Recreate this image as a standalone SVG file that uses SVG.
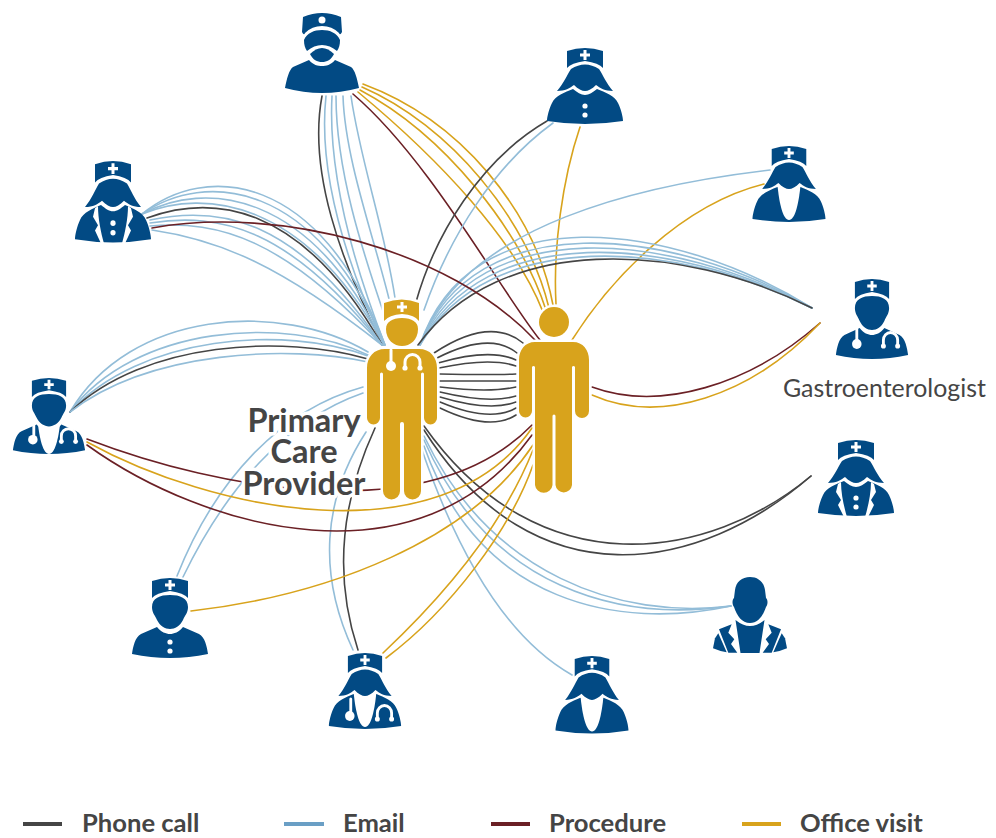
<svg xmlns="http://www.w3.org/2000/svg" width="996" height="838" viewBox="0 0 996 838">
<style>
.c{fill:none;stroke-width:1.6;stroke-linecap:round}
.ph{stroke:#454545}.em{stroke:#93bdd8}.pr{stroke:#6b2025}.of{stroke:#d8a31c}
.i{fill:#024a84}.w{fill:#fff}.ws{fill:none;stroke:#fff;stroke-width:3;stroke-linecap:round}
.g{fill:#d8a31c;stroke:#fff;stroke-width:5;paint-order:stroke}
.lab{font-family:"Lato","Liberation Sans",sans-serif;fill:#454545}
.pcp{font-size:32.5px;font-weight:700;text-anchor:middle;stroke:#fff;stroke-width:7;paint-order:stroke;stroke-linejoin:round}
.leg{font-size:25.6px;font-weight:700}
.ll{stroke-width:4;fill:none}
</style>
<defs>
<g id="cap"><path class="i" d="M-18,4 Q0,-2 18,4 V21 Q14,16 0,14 Q-14,16 -18,21Z"/><path class="w" d="M-1.5,3 H1.5 V6.5 H5 V9.5 H1.5 V13 H-1.5 V9.5 H-5 V6.5 H-1.5Z"/></g>
<path id="mhead" class="i" d="M-18,30 C-18,21 -10,18 0,18 C10,18 18,21 18,30 C18,36 15,38 13,43 C10,49 5,52 0,52 C-5,52 -10,49 -13,43 C-15,38 -18,36 -18,30Z"/>
<path id="mbody" class="i" d="M-13,50 C-9,55 -4,57 0,57 C4,57 9,55 13,50 L29,57 C35,60 37,70 38,77 Q0,85 -38,77 C-37,70 -35,60 -29,57Z"/>
<path id="hair" class="i" d="M-14,22 Q0,13 14,22 C18,28 21,36 28,44 C20,44 15,41 11,38 C7,42 3,44 0,44 C-3,44 -7,42 -11,38 C-15,41 -20,44 -28,44 C-21,36 -18,28 -14,22Z"/>
<path id="fbody" class="i" d="M-12,42 C-8,45 -4,48 0,48 C4,48 8,45 12,42 C20,45 30,49 33,56 C36,62 38,70 38,74 Q0,80 -38,74 C-38,70 -36,62 -33,56 C-30,49 -20,45 -12,42Z"/>
<g id="dots"><circle class="w" cx="0" cy="59" r="2.6"/><circle class="w" cx="0" cy="68" r="2.6"/></g>
<path id="vee" class="w" d="M-12,40 H12 C10,60 6,75 0,75 C-6,75 -10,60 -12,40Z"/>
<g id="lapels"><path class="w" d="M-18,45 L-15,43 C-15,55 -12,68 -9,78 L-12,78 L-18,66 L-15,61 L-20,53Z"/><path class="w" d="M18,45 L15,43 C15,55 12,68 9,78 L12,78 L18,66 L15,61 L20,53Z"/></g>
<g id="steth"><path class="ws" d="M-15,47 V62"/><circle class="w" cx="-16" cy="64" r="5"/><path class="ws" d="M13,67 V61 A7.5,7.5 0 0 1 28,61 V67"/><circle class="w" cx="13" cy="67" r="2.6"/><circle class="w" cx="28" cy="67" r="2.6"/></g>
<g id="suit-side"><path class="i" d="M-31,52.3 L-18.3,47.3 L-21.7,55.7 L-15.7,62.3 L-19,67 L-12.7,75.7 L-21.7,75.7Z"/><path class="i" d="M-37,71.3 L-35,61.3 L-31.7,56.3 L-23.3,75.3 Q-31,74 -37,71.3Z"/></g>
</defs>

<g id="connectors">
<path class="c ph" d="M322,96 C308,170 340,260 383,345"/>
<path class="c em" d="M326,96 C318,170 345,260 384,345"/>
<path class="c em" d="M332,96 C328,170 352,260 385,345"/>
<path class="c em" d="M336,96 C336,170 362,250 386,320"/>
<path class="c em" d="M343,96 C345,160 375,240 390,303"/>
<path class="c em" d="M351,96 C360,160 385,230 395,298"/>
<path class="c pr" d="M353,94 C430,160 500,290 540,340"/>
<path class="c of" d="M358,92 C440,160 515,240 543,312"/>
<path class="c of" d="M360,90 C445,135 520,230 546,310"/>
<path class="c of" d="M362,87 C450,125 528,220 549,308"/>
<path class="c of" d="M363,84 C460,120 535,210 553,305"/>
<path class="c ph" d="M547,121 C480,160 435,235 416,302"/>
<path class="c em" d="M553,123 C495,165 450,235 424,310"/>
<path class="c of" d="M580,127 C562,180 553,250 556,304"/>
<path class="c em" d="M770,170 C640,185 470,225 424,335"/>
<path class="c of" d="M764,184 C680,205 610,280 572,340"/>
<path class="c em" d="M812,308 C670,220 470,195 420,345"/>
<path class="c em" d="M812,308 C670,226 475,205 420,345"/>
<path class="c em" d="M812,308 C670,232 480,212 420,345"/>
<path class="c em" d="M812,308 C670,236 485,220 420,345"/>
<path class="c em" d="M812,308 C675,240 490,226 420,345"/>
<path class="c ph" d="M812,308 C680,242 500,232 418,345"/>
<path class="c pr" d="M820,323 C750,385 660,412 592,387"/>
<path class="c of" d="M820,323 C750,397 660,425 592,395"/>
<path class="c ph" d="M811,476 C710,560 540,590 424,426"/>
<path class="c ph" d="M811,476 C700,572 535,605 424,430"/>
<path class="c em" d="M731,606 C620,620 490,575 424,436"/>
<path class="c em" d="M731,606 C620,622 490,590 424,440"/>
<path class="c em" d="M731,606 C620,630 480,605 424,446"/>
<path class="c em" d="M572,675 C510,640 460,560 422,450"/>
<path class="c em" d="M353,650 C318,575 322,500 366,432"/>
<path class="c ph" d="M358,650 C338,590 335,515 375,428"/>
<path class="c of" d="M383,653 C450,590 505,520 533,450"/>
<path class="c of" d="M386,658 C450,610 510,530 533,465"/>
<path class="c em" d="M177,576 C215,480 280,410 363,387"/>
<path class="c em" d="M183,577 C225,490 285,420 363,393"/>
<path class="c of" d="M191,611 C330,595 470,540 533,445"/>
<path class="c em" d="M70,412 C130,310 280,300 368,352"/>
<path class="c em" d="M70,412 C135,325 285,315 368,355"/>
<path class="c em" d="M70,412 C140,335 285,325 368,356"/>
<path class="c ph" d="M70,412 C145,340 285,335 368,359"/>
<path class="c em" d="M70,412 C150,350 290,345 368,362"/>
<path class="c pr" d="M87,439 C220,490 430,530 532,425"/>
<path class="c of" d="M87,442 C210,510 440,560 532,428"/>
<path class="c pr" d="M87,445 C205,530 420,590 532,435"/>
<path class="c em" d="M142,214 C205,162 320,172 385,345"/>
<path class="c em" d="M142,214 C205,170 315,180 385,345"/>
<path class="c em" d="M142,214 C205,180 310,190 384,345"/>
<path class="c em" d="M142,214 C205,188 305,200 384,345"/>
<path class="c ph" d="M147,218 C210,195 300,200 382,345"/>
<path class="c em" d="M150,220 C220,205 295,218 382,345"/>
<path class="c em" d="M150,223 C220,212 290,228 382,345"/>
<path class="c em" d="M150,226 C220,220 285,240 382,345"/>
<path class="c em" d="M152,230 C220,240 280,265 382,345"/>
<path class="c pr" d="M152,228 C280,205 450,250 535,340"/>
<path class="c ph" d="M434,353 Q490,316 523,343"/>
<path class="c ph" d="M437,358 Q490,331 517,353"/>
<path class="c ph" d="M438,363 Q490,348 516,360"/>
<path class="c ph" d="M439,368 Q490,357 516,366"/>
<path class="c ph" d="M440,374 Q490,375 516,374"/>
<path class="c ph" d="M440,381 Q490,381 516,381"/>
<path class="c ph" d="M440,387 Q490,393 516,387"/>
<path class="c ph" d="M440,392 Q490,404 516,396"/>
<path class="c ph" d="M440,397 Q490,412 516,402"/>
<path class="c ph" d="M440,402 Q490,423 516,408"/>
<path class="c ph" d="M440,408 Q490,432 516,415"/>
</g>

<g id="pcp">
<path class="g" d="M385,349 H419 C430,349 437,357 437,368 V418 A6.5,6.5 0 0 1 424,418 V374 A1.5,1.5 0 0 0 421,374 V491 A8.5,8.5 0 0 1 404,491 V424 A2,2 0 0 0 400,424 V491 A8.5,8.5 0 0 1 383,491 V374 A1.5,1.5 0 0 0 380,374 V418 A6.5,6.5 0 0 1 367,418 V368 C367,357 374,349 385,349Z"/>
<path class="g" d="M384,303 Q402,296 419,303 V321 Q415,315 402,314 Q389,315 384,321Z"/>
<path class="w" d="M400.5,302 H403.5 V305.5 H407 V308.5 H403.5 V312 H400.5 V308.5 H397 V305.5 H400.5Z"/>
<path class="g" d="M386,329 C386,322 392,318 402,318 C412,318 418,322 418,329 C418,340 410,346 402,346 C394,346 386,340 386,329Z"/>
<path class="ws" d="M391,350 V363"/><circle class="w" cx="391" cy="366" r="5"/>
<path class="ws" d="M405,367 V362 A7.5,7.5 0 0 1 420,362 V367"/><circle class="w" cx="405" cy="368" r="2.6"/><circle class="w" cx="420" cy="368" r="2.6"/>
</g>

<g id="patient">
<circle class="g" cx="554" cy="322" r="15"/>
<path class="g" d="M535,342 H573 C583,342 589,350 589,360 V411 A7,7 0 0 1 575,411 V367 A1.7,1.7 0 0 0 572,367 V485 A8.3,8.3 0 0 1 555.5,485 V416 A1.5,1.5 0 0 0 552.5,416 V485 A8.8,8.8 0 0 1 535,485 V367 A1.7,1.7 0 0 0 532,367 V411 A6.5,6.5 0 0 1 519,411 V360 C519,350 525,342 535,342Z"/>
</g>

<g id="pcp-label" class="lab">
<text class="pcp" x="304" y="432">Primary</text>
<text class="pcp" x="304" y="463">Care</text>
<text class="pcp" x="304" y="495">Provider</text>
</g>

<g id="node-surgeon" transform="translate(322,12)">
<path class="i" d="M-19,5 Q0,-3 19,5 L20,20 Q18,24 17,21 Q10,14 0,14 Q-10,14 -17,21 Q-18,24 -20,20Z"/>
<circle class="w" cx="0" cy="8" r="3.5"/>
<path class="i" d="M-18,28 C-15,21 -8,18 0,18 C8,18 15,21 18,28 C18,33 17,36 15,39 Q8,33 0,33 Q-8,33 -15,39 C-17,36 -18,33 -18,28Z"/>
<path class="i" d="M-12,42 Q-6,36 0,36 Q6,36 12,42 C9,48 5,50 0,50 C-5,50 -9,48 -12,42Z"/>
<path class="i" d="M-13,48 C-9,53 -4,54 0,54 C4,54 9,53 13,48 L29,55 C33,58 35,66 37,76 Q0,86 -37,76 C-35,66 -33,58 -29,55Z"/>
</g>
<g id="node-nurse-top" transform="translate(585,47)"><use href="#fbody"/><use href="#hair"/><use href="#cap"/><use href="#dots"/></g>
<g id="node-nurse-right" transform="translate(789,145) scale(.96,1)"><use href="#fbody"/><use href="#vee"/><use href="#hair"/><use href="#cap"/></g>
<g id="node-gastro" transform="translate(872,278) scale(.95,1)"><use href="#mbody"/><use href="#mhead"/><use href="#cap"/>
<path class="ws" d="M-16,50 V63"/><circle class="w" cx="-16" cy="66" r="5"/><path class="ws" d="M12,68 V62 A7.5,7.5 0 0 1 27,62 V68"/><circle class="w" cx="12" cy="68" r="2.6"/><circle class="w" cx="27" cy="68" r="2.6"/>
</g>
<text id="gastro-label" class="lab" x="783" y="397" font-size="24.9">Gastroenterologist</text>
<g id="node-nurse-suit-right" transform="translate(856,439)"><use href="#fbody"/><use href="#lapels"/><use href="#hair"/><use href="#cap"/><use href="#dots"/></g>
<g id="node-suit-man" transform="translate(750,577)">
<path class="i" d="M-15,13 C-14,5 -8,0 0,0 C8,0 14,5 15,13 L16,21 C18,23 18,27 16,30 C13,39 8,46 0,46 C-8,46 -13,39 -16,30 C-18,27 -18,23 -16,21Z"/>
<path class="i" d="M-14.5,43 Q-7,49 0,49 Q7,49 14.5,43 L9.5,76 H-9.5Z"/>
<use href="#suit-side"/>
<use href="#suit-side" transform="scale(-1,1)"/>
</g>
<g id="node-nurse-bottom" transform="translate(592,655) scale(.96,1.02)"><use href="#fbody"/><use href="#vee"/><use href="#hair"/><use href="#cap"/></g>
<g id="node-nurse-steth" transform="translate(365,652) scale(.95,1)"><use href="#fbody"/><use href="#vee"/><use href="#steth"/><use href="#hair"/><use href="#cap"/></g>
<g id="node-male-nurse" transform="translate(170,577)"><use href="#mbody"/><use href="#mhead"/><use href="#cap"/><circle class="w" cx="0" cy="65" r="2.6"/><circle class="w" cx="0" cy="74" r="2.6"/></g>
<g id="node-doctor-left" transform="translate(49,377) scale(.95,.95)"><use href="#mbody"/><use href="#vee" transform="translate(0,6)"/><use href="#mhead"/><use href="#cap"/>
<path class="ws" d="M-16,50 V63"/><circle class="w" cx="-17" cy="66" r="5"/><path class="ws" d="M13,68 V62 A7.5,7.5 0 0 1 28,62 V68"/><circle class="w" cx="13" cy="68" r="2.6"/><circle class="w" cx="28" cy="68" r="2.6"/>
</g>
<g id="node-nurse-suit-left" transform="translate(113,160) scale(1,1.07)"><use href="#fbody"/><use href="#lapels"/><use href="#hair"/><use href="#cap"/><use href="#dots"/></g>

<g id="legend">
<path class="ll" stroke="#454545" d="M23,824 H62"/><text class="lab leg" x="82" y="832">Phone call</text>
<path class="ll" stroke="#6a9fc5" d="M284,824 H324"/><text class="lab leg" x="343" y="832">Email</text>
<path class="ll" stroke="#6b2025" d="M491,824 H530"/><text class="lab leg" x="549" y="832">Procedure</text>
<path class="ll" stroke="#d8a31c" d="M742,824 H781"/><text class="lab leg" x="800" y="832">Office visit</text>
</g>
</svg>
